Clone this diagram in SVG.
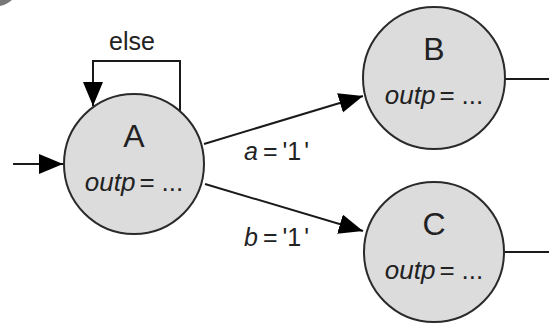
<svg xmlns="http://www.w3.org/2000/svg" width="549" height="324" viewBox="0 0 549 324">
<style>
.st{fill:#dcdcdc;stroke:#2a2a2a;stroke-width:2}
.ln{fill:none;stroke:#1a1a1a;stroke-width:2}
.nm{font-family:"Liberation Sans",Arial,sans-serif;font-size:32px;fill:#222;text-anchor:middle}
.ou{font-family:"Liberation Sans",Arial,sans-serif;font-size:26px;fill:#222;text-anchor:middle}
.lb{font-family:"Liberation Sans",Arial,sans-serif;font-size:25px;fill:#222}
.it{font-style:italic}
</style>
<defs>
<marker id="ah" markerUnits="userSpaceOnUse" markerWidth="26" markerHeight="22" refX="24" refY="10" orient="auto" viewBox="0 0 26 22">
<path d="M0,0 L24,10 L0,20 Z" fill="#000"/>
</marker>
</defs>
<path d="M0,0 H12 Q6,5 0,6 Z" fill="#777"/>
<g id="connectors">
<path class="ln" d="M13,164 H63" marker-end="url(#ah)"/>
<path class="ln" d="M180,111 V61 H93 V106" marker-end="url(#ah)"/>
<path class="ln" d="M204,144 L363,96" marker-end="url(#ah)"/>
<path class="ln" d="M205,184 L363,231" marker-end="url(#ah)"/>
<path class="ln" d="M505,79 H549"/>
<path class="ln" d="M504,252 H549"/>
<text class="lb" x="109" y="50" font-size="26">else</text>
<text class="lb" x="244" y="160"><tspan class="it">a</tspan><tspan dx="5">=</tspan><tspan dx="5">'1</tspan><tspan dx="3">'</tspan></text>
<text class="lb" x="244" y="246"><tspan class="it">b</tspan><tspan dx="5">=</tspan><tspan dx="5">'1</tspan><tspan dx="3">'</tspan></text>
</g>
<g id="A">
<circle class="st" cx="134" cy="164" r="70"/>
<text class="nm" x="134" y="147">A</text>
<text class="ou" x="134" y="191"><tspan class="it">outp</tspan><tspan dx="4">=</tspan><tspan dx="7">...</tspan></text>
</g>
<g id="B">
<circle class="st" cx="434" cy="78" r="71"/>
<text class="nm" x="434" y="60">B</text>
<text class="ou" x="434" y="104"><tspan class="it">outp</tspan><tspan dx="4">=</tspan><tspan dx="7">...</tspan></text>
</g>
<g id="C">
<circle class="st" cx="434" cy="252" r="70"/>
<text class="nm" x="434" y="235">C</text>
<text class="ou" x="434" y="279"><tspan class="it">outp</tspan><tspan dx="4">=</tspan><tspan dx="7">...</tspan></text>
</g>
</svg>
